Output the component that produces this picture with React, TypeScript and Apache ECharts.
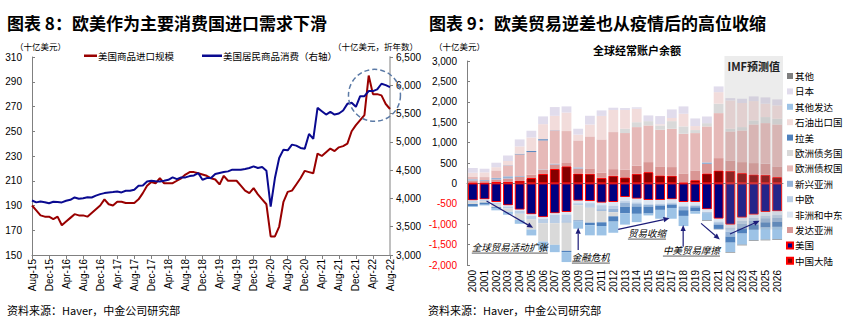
import React, { useEffect, useRef } from "react";
import * as echarts from "echarts";

const CJK = '"Noto Sans CJK SC", sans-serif';
const LAT = '"Liberation Sans", Arial, sans-serif';

// ---------- Chart 8 (line chart) ----------
const MONTH_NAMES = ["Jan", "Feb", "Mar", "Apr", "May", "Jun", "Jul", "Aug", "Sep", "Oct", "Nov", "Dec"];
const monthCategories: string[] = [];
for (let i = 0; i < 85; i++) {
  const mi = (7 + i) % 12;
  const yr = 15 + Math.floor((7 + i) / 12);
  monthCategories.push(`${MONTH_NAMES[mi]}-${yr}`);
}

// 美国商品进口规模 (十亿美元, left axis)
const usImports = [
  190, 186, 182, 181, 181, 179, 181, 174, 177, 180, 183, 182, 182, 181, 184, 187, 190, 195, 191, 190,
  193, 193, 192, 192, 192, 195, 200, 206, 209, 208, 212, 208, 208, 208, 210, 212, 215, 217, 217, 216,
  215, 214, 212, 211, 207, 214, 210, 210, 210, 206, 202, 200, 204, 199, 195, 191, 165, 165, 173, 193,
  201, 202, 207, 212, 218, 217, 216, 232, 230, 233, 236, 234, 237, 238, 240, 250, 255, 259, 263, 295,
  280, 280, 279, 272, 268,
];
// 美国居民商品消费 (十亿美元, 折年数, right axis)
const usConsumption = [
  3964, 3930, 3946, 3934, 3916, 3940, 3935, 3930, 3958, 3976, 4017, 3993, 4005, 4020, 4017, 4050, 4076, 4094, 4106, 4112,
  4123, 4106, 4135, 4135, 4153, 4224, 4230, 4301, 4313, 4305, 4301, 4313, 4330, 4372, 4342, 4372, 4372, 4395, 4407, 4449,
  4330, 4360, 4360, 4431, 4449, 4466, 4478, 4508, 4508, 4508, 4520, 4537, 4567, 4537, 4555, 4490, 3857, 4360, 4715, 4862,
  4851, 4951, 4933, 4892, 4880, 5140, 5052, 5601, 5542, 5483, 5530, 5483, 5501, 5554, 5672, 5690, 5619, 5808, 5808, 5897,
  5897, 5927, 6027, 6003, 5968,
];

// ---------- Chart 9 (stacked bars) ----------
const years = [
  "2000", "2001", "2002", "2003", "2004", "2005", "2006", "2007", "2008", "2009", "2010", "2011", "2012", "2013",
  "2014", "2015", "2016", "2017", "2018", "2019", "2020", "2021", "2022", "2023", "2024", "2025", "2026",
];
const china = [20, 17, 35, 43, 69, 132, 232, 353, 420, 243, 238, 136, 190, 148, 236, 277, 196, 190, 24, 80, 245, 318, 310, 253, 220, 212, 155];
const usa = [-417, -392, -457, -539, -645, -760, -830, -735, -703, -425, -433, -474, -457, -335, -376, -409, -409, -392, -457, -457, -637, -866, -1013, -841, -768, -703, -686];
const devAsia = [50, 40, 60, 80, 90, 80, 100, 110, 80, 120, 130, 130, 160, 190, 200, 245, 221, 210, 220, 238, 230, 302, 253, 269, 278, 270, 262];
const afrME = [-20, -20, -25, -25, -30, -30, -35, -40, -60, -60, -50, -60, -90, -100, -90, -100, -90, -80, -90, -80, -80, -70, -70, -80, -80, -90, -90];
const cEurope = [-40, -30, -40, -50, -70, -80, -110, -200, -170, -50, -90, -100, -70, -40, -40, -20, -20, -30, -30, -10, 0, -40, -100, -70, -60, -60, -60];
const emAsia = [30, 25, 40, 50, 20, -10, 10, 20, -30, 30, -20, -40, -90, -100, -60, -40, -30, -20, -80, -40, 40, -40, -120, -110, -100, -100, -100];
const euCreditor = [55, 73, 184, 268, 532, 556, 712, 816, 783, 661, 784, 812, 908, 896, 944, 899, 898, 940, 973, 915, 882, 1103, 711, 776, 948, 996, 1029];
const euDebtor = [-30, -30, -60, -80, -150, -250, -450, -530, -690, -375, -370, -280, -100, 106, 120, 105, 106, 186, 180, 74, 80, 230, 66, 82, 98, 148, 139];
const latam = [-48, -50, -20, 5, 15, 25, 30, 5, -30, -20, -60, -90, -130, -160, -180, -170, -100, -80, -140, -100, -10, -100, -150, -130, -130, -130, -130];
const oilExp = [106, 115, 78, 105, 182, 333, 368, 352, 454, 141, 291, 576, 542, 461, 330, 0, 29, 77, 310, 98, 0, 284, 693, 590, 474, 327, 327];
const otherAdv = [-25, -18, -58, -76, -95, -145, -215, -180, -245, -180, -250, -231, -273, -275, -204, -46, -217, -264, -249, -56, -180, -11, -230, -272, -259, -297, -306];
const japan = [115, 90, 110, 135, 170, 165, 190, 215, 150, 145, 215, 135, 55, 45, 35, 140, 200, 210, 180, 187, 163, 140, 57, 105, 114, 155, 147];
const others = [0, 0, 0, 0, 0, 0, 0, 0, 0, 0, 0, 0, 0, 0, 0, 0, 0, 0, 0, 0, -15, -5, -15, -15, -15, -15, -15];

const barDefs = [
  { name: "中国大陆", data: china, color: "#850000", border: "#ff0000" },
  { name: "美国", data: usa, color: "#000080", border: "#ff0000" },
  { name: "发达亚洲", data: devAsia, color: "#d99694" },
  { name: "非洲和中东", data: afrME, color: "#dce6f2" },
  { name: "中欧", data: cEurope, color: "#b9cde5" },
  { name: "新兴亚洲", data: emAsia, color: "#95b3d7" },
  { name: "欧洲债权国", data: euCreditor, color: "#e6b9b8" },
  { name: "欧洲债务国", data: euDebtor, color: "#d9d9d9" },
  { name: "拉美", data: latam, color: "#4f81bd" },
  { name: "石油出口国", data: oilExp, color: "#f2dcdb" },
  { name: "其他发达", data: otherAdv, color: "#9dc3e6" },
  { name: "日本", data: japan, color: "#e1dcec" },
  { name: "其他", data: others, color: "#7f7f7f" },
];

// Annotations (category index, value)
const forecastStart = "2022";
const forecastTop = 3120;
const forecastBottom = -1130;
const arrows: [number, number, number, number][] = [
  [1.17, -430, 5.15, -1090],
  [9.0, -1633, 9.0, -1088],
  [12.42, -1127, 16.8, -857],
  [17.97, -1553, 17.97, -1021],
  [19.5, -980, 21.1, -1372],
  [21.97, -1242, 24.5, -917],
];
const notes: { text: string; idx: number; value: number }[] = [
  { text: "全球贸易活动扩张", idx: -0.09, value: -1561 },
  { text: "金融危机", idx: 8.46, value: -1806 },
  { text: "贸易收缩", idx: 13.25, value: -1218 },
  { text: "中美贸易摩擦", idx: 16.24, value: -1634 },
];
const circleAt = { month: "Apr-22", value: 279 };

const fmt = (v: number) => Number(v).toLocaleString("en-US");

export default function App() {
  const ref = useRef<HTMLDivElement>(null);
  useEffect(() => {
    if (!ref.current) return;
    const chart = echarts.init(ref.current, undefined, { renderer: "svg" });
    const axisGray = "#808080";
    const option: any = {
      animation: false,
      backgroundColor: "#fff",
      grid: [
        { left: 32, top: 57, width: 358, height: 198 },
        { left: 467, top: 61, width: 316, height: 204 },
      ],
      legend: [
        {
          data: ["美国商品进口规模"],
          left: 84,
          top: 51,
          padding: 0,
          icon: "rect",
          itemWidth: 13,
          itemHeight: 2.5,
          textStyle: { fontFamily: CJK, fontSize: 9.5, color: "#000", padding: [0, 0, 0, -4] },
        },
        {
          data: ["美国居民商品消费（右轴）"],
          left: 202,
          top: 51,
          padding: 0,
          icon: "rect",
          itemWidth: 20,
          itemHeight: 2.5,
          textStyle: { fontFamily: CJK, fontSize: 9.5, color: "#000", padding: [0, 0, 0, -4] },
        },
        {
          data: barDefs.map((d) => d.name).reverse(),
          orient: "vertical",
          left: 786,
          top: 70,
          padding: 0,
          icon: "rect",
          itemWidth: 6,
          itemHeight: 6,
          itemGap: 3.4,
          textStyle: { fontFamily: CJK, fontSize: 9.5, color: "#000", lineHeight: 12, padding: [0, 0, 0, -3] },
        },
      ],
      xAxis: [
        {
          type: "category",
          gridIndex: 0,
          data: monthCategories,
          boundaryGap: false,
          axisLine: { lineStyle: { color: axisGray } },
          axisTick: { interval: 3, length: 4, lineStyle: { color: axisGray } },
          axisLabel: { interval: 3, rotate: 90, fontSize: 10, fontFamily: LAT, color: "#000", margin: 4 },
        },
        {
          type: "category",
          gridIndex: 1,
          data: years,
          position: "bottom",
          axisLine: { show: false, onZero: false },
          axisTick: { show: false },
          axisLabel: { interval: 0, rotate: 90, fontSize: 10, fontFamily: LAT, color: "#000", margin: 5 },
        },
        {
          type: "category",
          gridIndex: 1,
          data: years,
          axisLine: { show: true, onZero: true, lineStyle: { color: axisGray } },
          axisTick: { show: false },
          axisLabel: { show: false },
        },
      ],
      yAxis: [
        {
          type: "value",
          gridIndex: 0,
          min: 150,
          max: 310,
          interval: 20,
          axisLine: { show: true, lineStyle: { color: axisGray } },
          axisTick: { show: true, inside: true, length: 3, lineStyle: { color: axisGray } },
          splitLine: { show: false },
          axisLabel: { fontSize: 10, fontFamily: LAT, color: "#000", margin: 10 },
        },
        {
          type: "value",
          gridIndex: 0,
          position: "right",
          min: 3000,
          max: 6500,
          interval: 500,
          axisLine: { show: true, lineStyle: { color: "#c0c0c0", width: 2 } },
          axisTick: { show: true, length: 3, lineStyle: { color: axisGray } },
          splitLine: { show: false },
          axisLabel: { fontSize: 10, fontFamily: LAT, color: "#000", margin: 6, formatter: fmt },
        },
        {
          type: "value",
          gridIndex: 1,
          min: -2000,
          max: 3000,
          interval: 500,
          axisLine: { show: true, lineStyle: { color: axisGray } },
          axisTick: { show: true, inside: true, length: 3, lineStyle: { color: axisGray } },
          splitLine: { show: false },
          axisLabel: {
            fontSize: 10,
            fontFamily: LAT,
            margin: 10,
            formatter: fmt,
            color: (v: any) => (parseFloat(v) < 0 ? "#ff0000" : "#000"),
          },
        },
      ],
      series: [
        {
          name: "美国商品进口规模",
          type: "line",
          xAxisIndex: 0,
          yAxisIndex: 0,
          data: usImports,
          showSymbol: false,
          lineStyle: { color: "#990000", width: 2 },
          itemStyle: { color: "#990000" },
          z: 3,
        },
        {
          name: "美国居民商品消费（右轴）",
          type: "line",
          xAxisIndex: 0,
          yAxisIndex: 1,
          data: usConsumption,
          showSymbol: false,
          lineStyle: { color: "#0a0a90", width: 2 },
          itemStyle: { color: "#0a0a90" },
          z: 4,
        },
        ...barDefs.map((d) => ({
          name: d.name,
          type: "bar",
          xAxisIndex: 1,
          yAxisIndex: 2,
          stack: "ca",
          barCategoryGap: "16%",
          data: d.data,
          itemStyle: {
            color: d.color,
            borderColor: d.border || d.color,
            borderWidth: d.border ? 1 : 0,
          },
        })),
      ],
    };
    chart.setOption(option);

    const finderL = { xAxisIndex: 0, yAxisIndex: 0 };
    const finderR = { xAxisIndex: 1, yAxisIndex: 2 };
    const p0 = chart.convertToPixel(finderR as any, [years[0], 0]) as number[];
    const p1 = chart.convertToPixel(finderR as any, [years[1], 0]) as number[];
    const step = p1[0] - p0[0];
    const px = (idx: number, val: number): number[] => {
      const p = chart.convertToPixel(finderR as any, [years[0], val]) as number[];
      return [p0[0] + idx * step, p[1]];
    };
    const fsIdx = years.indexOf(forecastStart);
    const fTop = px(fsIdx - 0.5, forecastTop);
    const fBot = px(years.length - 0.5, forecastBottom);
    const arrowColor = "#1c1c78";
    const arrowEls: any[] = [];
    arrows.forEach(([i0, v0, i1, v1]) => {
      const a = px(i0, v0);
      const b = px(i1, v1);
      const dx = b[0] - a[0];
      const dy = b[1] - a[1];
      const len = Math.hypot(dx, dy);
      const ux = dx / len;
      const uy = dy / len;
      const hl = 6;
      const hw = 2.6;
      const bx = b[0] - ux * hl;
      const by = b[1] - uy * hl;
      arrowEls.push({
        type: "line",
        z: 120,
        shape: { x1: a[0], y1: a[1], x2: bx, y2: by },
        style: { stroke: arrowColor, lineWidth: 1.2 },
      });
      arrowEls.push({
        type: "polygon",
        z: 120,
        shape: { points: [[b[0], b[1]], [bx - uy * hw, by + ux * hw], [bx + uy * hw, by - ux * hw]] },
        style: { fill: arrowColor },
      });
    });
    const noteFs = 9.5;
    const noteEls: any[] = [];
    notes.forEach((n) => {
      const p = px(n.idx, n.value);
      noteEls.push({
        type: "text",
        z: 121,
        x: p[0],
        y: p[1],
        style: {
          text: n.text,
          fontFamily: CJK,
          fontSize: noteFs,
          fontStyle: "italic",
          fill: "#000",
          verticalAlign: "middle",
        },
      });
      noteEls.push({
        type: "line",
        z: 121,
        shape: { x1: p[0], y1: p[1] + 6, x2: p[0] + n.text.length * noteFs, y2: p[1] + 6 },
        style: { stroke: "#333", lineWidth: 0.8 },
      });
    });
    const c = chart.convertToPixel(finderL as any, [circleAt.month, circleAt.value]) as number[];

    const staticText = (text: string, x: number, y: number, fontSize: number, extra: any = {}) => ({
      type: "text",
      x,
      y,
      z: 130,
      style: { text, fontFamily: CJK, fontSize, fill: "#000", verticalAlign: "middle", ...extra },
    });

    chart.setOption({
      graphic: [
        staticText("图表 8：欧美作为主要消费国进口需求下滑", 7, 22, 17, { fontWeight: "bold" }),
        staticText("图表 9：欧美贸易逆差也从疫情后的高位收缩", 429, 22, 17, { fontWeight: "bold" }),
        staticText("（十亿美元）", 15, 46, 8.5),
        staticText("（十亿美元，折年数）", 418, 46, 8.5, { align: "right" }),
        staticText("（十亿美元）", 434, 46, 8.5),
        staticText("全球经常账户余额", 637, 50, 11, { align: "center", fontWeight: "bold" }),
        staticText("资料来源：Haver，中金公司研究部", 7, 310, 11),
        staticText("资料来源：Haver，中金公司研究部", 428, 310, 11),
        {
          type: "rect",
          z: 100,
          shape: { x: fTop[0], y: fTop[1], width: fBot[0] - fTop[0], height: fBot[1] - fTop[1] },
          style: { fill: "rgba(170,170,170,0.22)" },
        },
        {
          type: "text",
          z: 131,
          x: (fTop[0] + fBot[0]) / 2,
          y: fTop[1] + 10,
          style: {
            text: "IMF预测值",
            fontFamily: CJK,
            fontSize: 11,
            fontWeight: "bold",
            fill: "#222",
            align: "center",
            verticalAlign: "middle",
          },
        },
        {
          type: "circle",
          z: 110,
          shape: { cx: c[0] + 1.5, cy: c[1], r: 26 },
          style: { fill: "none", stroke: "#5b7aa6", lineWidth: 1.5, lineDash: [5, 3] },
        },
        ...arrowEls,
        ...noteEls,
      ],
    });

    return () => chart.dispose();
  }, []);
  return (
    <div
      ref={ref}
      style={{ position: "absolute", left: 0, top: 0, width: 849, height: 326, background: "#fff" }}
    />
  );
}
